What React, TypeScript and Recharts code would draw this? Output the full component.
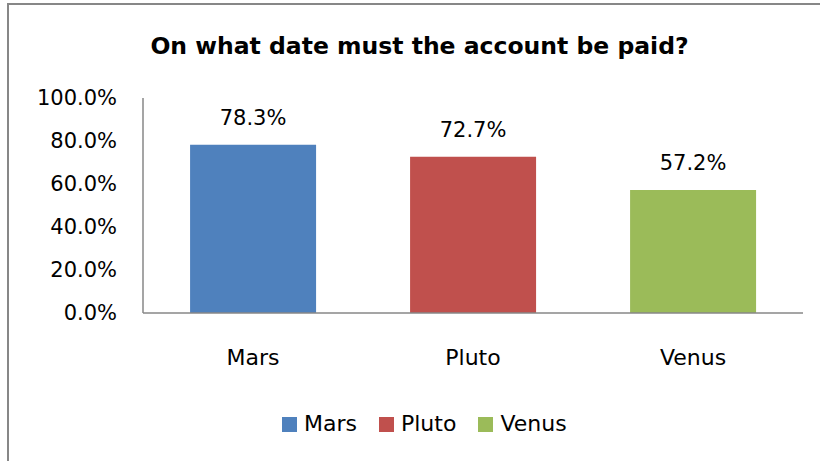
import { BarChart, Bar, XAxis, YAxis, Cell, LabelList, Legend } from "recharts";

const TITLE = "On what date must the account be paid?";
const categories = ["Mars", "Pluto", "Venus"];
const values = [78.3, 72.7, 57.2];
const colors = ["#4F81BD", "#C0504D", "#9BBB59"];
const yTicks = [0, 20, 40, 60, 80, 100];

const FONT = "'DejaVu Sans', sans-serif";
const AXIS = "#878787";

const data = categories.map((name, i) => ({ name, value: values[i] }));

function pct(v: number | string) {
  return `${Number(v).toFixed(1)}%`;
}

function LegendBox() {
  return (
    <div
      style={{
        display: "flex",
        alignItems: "center",
        fontFamily: FONT,
        fontSize: 22,
        lineHeight: "22px",
        color: "#000",
      }}
    >
      {categories.map((c, i) => (
        <div key={c} style={{ display: "flex", alignItems: "center", marginRight: 22 }}>
          <span
            style={{
              display: "inline-block",
              width: 15,
              height: 15,
              background: colors[i],
              marginRight: 7,
            }}
          />
          <span>{c}</span>
        </div>
      ))}
    </div>
  );
}

export default function App() {
  return (
    <div
      style={{
        position: "fixed",
        left: 0,
        top: 0,
        width: 820,
        height: 461,
        background: "#fff",
        overflow: "hidden",
      }}
    >
      <div
        style={{
          position: "absolute",
          left: 7,
          top: 3,
          width: 820,
          height: 470,
          borderTop: `2px solid ${AXIS}`,
          borderLeft: `2px solid ${AXIS}`,
        }}
      />
      <div
        style={{
          position: "absolute",
          left: 0,
          top: 35,
          width: 839,
          textAlign: "center",
          fontFamily: FONT,
          fontWeight: "bold",
          fontSize: 23.5,
          lineHeight: "23px",
          color: "#000",
        }}
      >
        {TITLE}
      </div>
      <div style={{ position: "absolute", left: 0, top: 0 }}>
        <BarChart
          width={820}
          height={461}
          data={data}
          margin={{ top: 98, right: 17, bottom: 88, left: 8 }}
          barCategoryGap="21.4%"
        >
          <XAxis
            dataKey="name"
            height={60}
            axisLine={{ stroke: AXIS, strokeWidth: 1.5 }}
            tickLine={false}
            tickSize={0}
            tickMargin={36}
            tick={{ fill: "#000", fontSize: 22, fontFamily: FONT }}
          />
          <YAxis
            width={135}
            domain={[0, 100]}
            ticks={yTicks}
            tickFormatter={pct}
            axisLine={{ stroke: AXIS, strokeWidth: 1.5 }}
            tickLine={false}
            tickSize={0}
            tickMargin={26}
            tick={{ fill: "#000", fontSize: 21, fontFamily: FONT }}
          />
          <Legend
            verticalAlign="middle"
            align="center"
            wrapperStyle={{ position: "absolute", left: 282, top: 413, width: "auto" }}
            content={<LegendBox />}
          />
          <Bar dataKey="value" isAnimationActive={false}>
            {data.map((d, i) => (
              <Cell key={d.name} fill={colors[i]} />
            ))}
            <LabelList
              dataKey="value"
              position="top"
              offset={20}
              formatter={pct}
              style={{ fill: "#000", fontSize: 21, fontFamily: FONT }}
            />
          </Bar>
        </BarChart>
      </div>
    </div>
  );
}
